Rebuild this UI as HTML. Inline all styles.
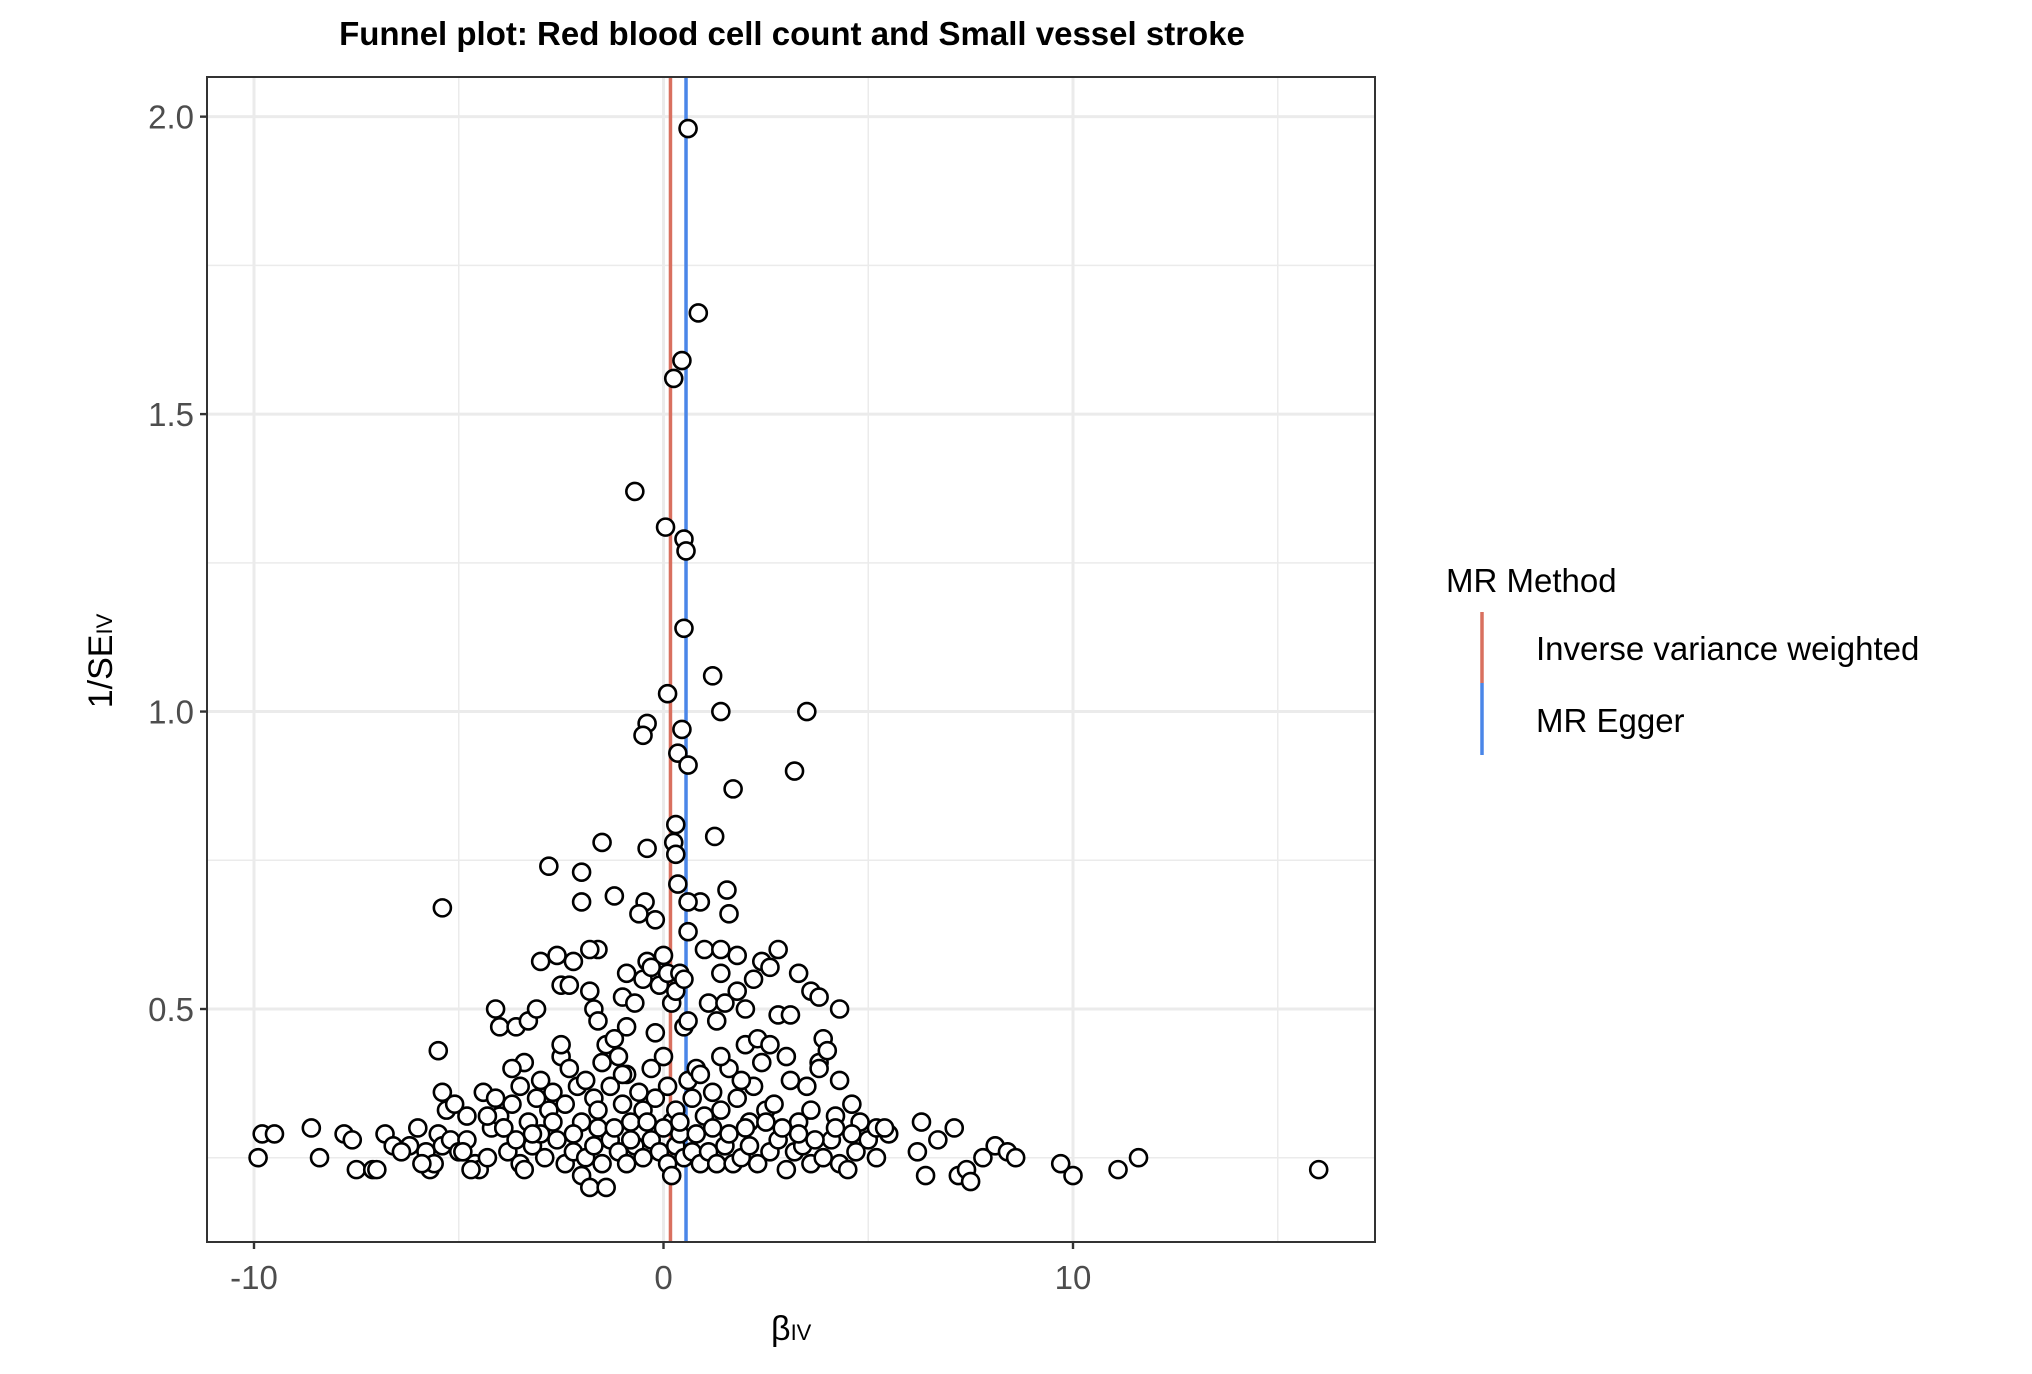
<!DOCTYPE html>
<html><head><meta charset="utf-8"><style>
body{margin:0;background:#fff;position:relative;width:2032px;height:1374px;overflow:hidden}
svg{display:block;font-family:"Liberation Sans",sans-serif;position:absolute;left:0;top:0}
</style></head><body>
<svg id="chart" width="2032" height="1374" viewBox="0 0 2032 1374"></svg>
<script>
const xTicks=[-10,0,10];
const xMinor=[-5,5,15];
const yTicks=[0.5,1.0,1.5,2.0];
const yTickLabels=["0.5","1.0","1.5","2.0"];
const yMinor=[0.25,0.75,1.25,1.75];
const ivwEstimate=0.17;
const eggerEstimate=0.55;
const betaIV=[0.6,0.85,0.45,0.25,-0.7,0.05,0.5,0.55,0.5,1.2,0.1,1.4,3.5,-0.4,-0.5,0.45,0.35,0.6,3.2,1.7,0.3,1.25,-1.5,0.25,0.3,-0.4,-2.8,-2.0,1.55,-1.2,-0.45,0.9,0.6,-2.0,-5.4,1.6,-0.6,0.35,-0.2,
-9.9,-9.8,-9.5,-8.6,-8.4,-7.8,-7.6,-7.5,-7.1,-7.0,-6.8,-6.6,-6.2,-6.0,-5.8,-5.7,-5.6,-5.5,-5.4,-5.2,-5.0,-4.8,-4.6,-4.5,-4.3,-4.2,-4.0,-3.8,-3.6,-3.5,-3.4,-3.2,-3.0,-2.9,-2.6,-2.4,-2.2,-2.0,-1.9,-1.8,-1.7,-1.5,-1.4,-1.3,-1.1,-0.9,-0.7,-0.5,-0.3,-0.1,0.1,0.2,0.3,0.5,0.7,0.9,1.1,1.3,1.5,1.7,1.9,2.1,2.3,2.6,2.8,3.0,3.2,3.4,3.6,3.9,4.1,4.3,4.5,4.7,5.0,5.2,5.5,6.2,6.3,6.4,6.7,7.1,7.2,7.4,7.5,7.8,8.1,8.4,8.6,9.7,10.0,11.1,11.6,16.0,
-5.5,-5.4,-5.3,-5.1,-4.8,-4.4,-4.3,-4.1,-3.9,-3.7,-3.5,-3.4,-3.3,-3.1,-3.0,-2.8,-2.7,-2.5,-2.4,-2.3,-2.1,-2.0,-1.9,-1.7,-1.6,-1.4,-1.3,-1.1,-1.0,-0.9,-0.8,-0.6,-0.5,-0.3,-0.2,0.0,0.1,0.2,0.3,0.4,0.6,0.7,0.8,1.0,1.2,1.4,1.6,1.8,2.0,2.1,2.2,2.4,2.5,2.7,3.0,3.1,3.3,3.5,3.6,3.8,3.9,4.2,4.3,4.6,4.8,5.2,
-4.1,-4.0,-3.6,-3.3,-3.1,-3.0,-2.6,-2.5,-2.3,-2.2,-1.8,-1.7,-1.6,-1.6,-1.8,-1.2,-1.0,-0.9,-0.7,-0.5,-0.4,-0.3,-0.1,0.0,0.1,0.2,0.3,0.4,0.5,0.6,0.5,1.0,1.1,1.3,1.4,1.4,1.5,1.8,1.8,2.0,2.2,2.4,2.6,2.8,2.8,3.3,3.6,3.8,4.3,3.1,2.3,4.0,-0.9,
-6.4,-5.9,-4.9,-4.7,-3.9,-3.2,-2.7,-2.2,-1.6,-1.2,-0.8,-0.4,0.0,0.4,0.8,1.2,1.6,2.0,2.5,2.9,3.3,3.7,4.2,4.6,5.4,-1.0,0.9,1.9,-2.5,2.6,-3.7,3.8,-0.2,0.6,-1.5,1.4];
const invSE=[1.98,1.67,1.59,1.56,1.37,1.31,1.29,1.27,1.14,1.06,1.03,1.0,1.0,0.98,0.96,0.97,0.93,0.91,0.9,0.87,0.81,0.79,0.78,0.78,0.76,0.77,0.74,0.73,0.70,0.69,0.68,0.68,0.68,0.68,0.67,0.66,0.66,0.71,0.65,
0.25,0.29,0.29,0.30,0.25,0.29,0.28,0.23,0.23,0.23,0.29,0.27,0.27,0.30,0.26,0.23,0.24,0.29,0.27,0.28,0.26,0.28,0.24,0.23,0.25,0.30,0.32,0.26,0.28,0.24,0.23,0.27,0.29,0.25,0.28,0.24,0.26,0.22,0.25,0.20,0.27,0.24,0.20,0.28,0.26,0.24,0.27,0.25,0.28,0.26,0.24,0.22,0.27,0.25,0.26,0.24,0.26,0.24,0.27,0.24,0.25,0.27,0.24,0.26,0.28,0.23,0.26,0.27,0.24,0.25,0.28,0.24,0.23,0.26,0.28,0.25,0.29,0.26,0.31,0.22,0.28,0.30,0.22,0.23,0.21,0.25,0.27,0.26,0.25,0.24,0.22,0.23,0.25,0.23,
0.43,0.36,0.33,0.34,0.32,0.36,0.32,0.35,0.30,0.34,0.37,0.41,0.31,0.35,0.38,0.33,0.36,0.42,0.34,0.40,0.37,0.31,0.38,0.35,0.33,0.44,0.37,0.42,0.34,0.39,0.31,0.36,0.33,0.40,0.35,0.42,0.37,0.31,0.33,0.29,0.38,0.35,0.40,0.32,0.36,0.33,0.40,0.35,0.44,0.31,0.37,0.41,0.33,0.34,0.42,0.38,0.31,0.37,0.33,0.41,0.45,0.32,0.38,0.34,0.31,0.30,
0.50,0.47,0.47,0.48,0.50,0.58,0.59,0.54,0.54,0.58,0.53,0.50,0.48,0.60,0.60,0.45,0.52,0.56,0.51,0.55,0.58,0.57,0.54,0.59,0.56,0.51,0.53,0.56,0.47,0.63,0.55,0.60,0.51,0.48,0.56,0.60,0.51,0.53,0.59,0.50,0.55,0.58,0.57,0.49,0.60,0.56,0.53,0.52,0.50,0.49,0.45,0.43,0.47,
0.26,0.24,0.26,0.23,0.30,0.29,0.31,0.29,0.30,0.30,0.28,0.31,0.30,0.31,0.29,0.30,0.29,0.30,0.31,0.30,0.29,0.28,0.30,0.29,0.30,0.39,0.39,0.38,0.44,0.44,0.40,0.40,0.46,0.48,0.41,0.42];
const NS="http://www.w3.org/2000/svg";
const svg=document.getElementById('chart');
const L=207,R=1375,T=77,B=1242;
const xs=v=>663.5+v*40.95;
const ys=v=>1009-(v-0.5)*594.9;
function mk(tag,attrs,parent){const e=document.createElementNS(NS,tag);for(const k in attrs)e.setAttribute(k,attrs[k]);(parent||svg).appendChild(e);return e;}
const clip=mk('clipPath',{id:'pc'});mk('rect',{x:L,y:T,width:R-L,height:B-T},clip);
mk('rect',{x:L,y:T,width:R-L,height:B-T,fill:'#fff'});
const grid=mk('g',{});


xMinor.forEach(v=>{mk('line',{x1:xs(v),x2:xs(v),y1:T,y2:B,stroke:'#ebebeb','stroke-width':1.5},grid);});
yMinor.forEach(v=>{mk('line',{x1:L,x2:R,y1:ys(v),y2:ys(v),stroke:'#ebebeb','stroke-width':1.5},grid);});
xTicks.forEach(v=>{mk('line',{x1:xs(v),x2:xs(v),y1:T,y2:B,stroke:'#ebebeb','stroke-width':3},grid);});
yTicks.forEach(v=>{mk('line',{x1:L,x2:R,y1:ys(v),y2:ys(v),stroke:'#ebebeb','stroke-width':3},grid);});
const ivw=mk('line',{x1:xs(ivwEstimate),x2:xs(ivwEstimate),y1:T,y2:B,stroke:'#d9705f','stroke-width':3.5});


const egg=mk('line',{x1:xs(eggerEstimate),x2:xs(eggerEstimate),y1:T,y2:B,stroke:'#4a86e8','stroke-width':3.5});


const pts=mk('g',{'clip-path':'url(#pc)'});


for(let i=0;i<betaIV.length;i++){
 const c=mk('circle',{cx:xs(betaIV[i]),cy:ys(invSE[i]),r:8.5,fill:'#fff',stroke:'#000','stroke-width':2.6},pts);
 
 
}
const frame=mk('rect',{x:L,y:T,width:R-L,height:B-T,fill:'none',stroke:'#333','stroke-width':2});


xTicks.forEach(v=>{
 mk('line',{x1:xs(v),x2:xs(v),y1:B,y2:B+7,stroke:'#333','stroke-width':2.4});
 const t=mk('text',{x:xs(v),y:B+47,'text-anchor':'middle','font-size':33,fill:'#4d4d4d'});t.textContent=String(v);
 
 
});
yTicks.forEach((v,i)=>{
 mk('line',{x1:L-7,x2:L,y1:ys(v),y2:ys(v),stroke:'#333','stroke-width':2.4});
 const t=mk('text',{x:L-13,y:ys(v)+12,'text-anchor':'end','font-size':33,fill:'#4d4d4d'});t.textContent=yTickLabels[i];
 
 
});
</script>
<svg width="2032" height="1374">
<text x="792" y="45" text-anchor="middle" font-size="33" font-weight="bold" font-family="Liberation Sans, sans-serif">Funnel plot: Red blood cell count and Small vessel stroke</text>
<text x="771" y="1340" font-size="34" font-family="Liberation Sans, sans-serif">β<tspan font-size="22">IV</tspan></text>
<text transform="translate(112,661) rotate(-90)" text-anchor="middle" font-size="34" font-family="Liberation Sans, sans-serif">1/SE<tspan font-size="22">IV</tspan></text>
<text x="1446" y="592" font-size="33" font-family="Liberation Sans, sans-serif">MR Method</text>
<line x1="1482" x2="1482" y1="612" y2="683" stroke="#d9705f" stroke-width="3.5"/>
<line x1="1482" x2="1482" y1="683" y2="755" stroke="#4a86e8" stroke-width="3.5"/>
<text x="1536" y="660" font-size="33" font-family="Liberation Sans, sans-serif">Inverse variance weighted</text>
<text x="1536" y="732" font-size="33" font-family="Liberation Sans, sans-serif">MR Egger</text>
</svg>
</body></html>
